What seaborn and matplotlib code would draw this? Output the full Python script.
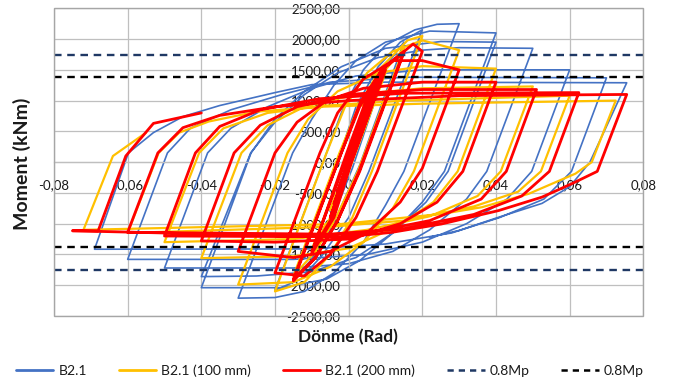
import matplotlib
matplotlib.use("Agg")
import matplotlib.pyplot as plt
from matplotlib.lines import Line2D
from matplotlib.patches import Rectangle
import seaborn as sns
import pandas as pd

# ---------------- data (rotation [rad], moment [kNm]) ----------------
B21 = [
    (0.000, 0), (0.004, 700), (-0.004, -700), (0.005, 820), (-0.005, -800),
    (0.001, 200), (0.005, 950), (0.010, 1500), (0.001, -100), (-0.004, -850), (-0.010, -1480),
    (-0.0003, 100), (0.005, 1000), (0.010, 1550), (0.015, 1950),
    (0.003, -50), (-0.003, -850), (-0.008, -1450), (-0.015, -1900),
    (-0.0025, 100), (0.002, 900), (0.008, 1550), (0.014, 1950), (0.020, 2150),
    (0.0055, -150), (0.000, -900), (-0.007, -1500), (-0.013, -1900), (-0.020, -2080),
    (-0.006, 150), (-0.002, 800), (0.004, 1500), (0.010, 1900), (0.018, 2150), (0.024, 2240), (0.030, 2250),
    (0.015, -150), (0.010, -700), (0.004, -1300), (-0.004, -1800), (-0.012, -2100), (-0.020, -2200), (-0.030, -2210),
    (-0.0152, 150), (-0.010, 700), (-0.004, 1250), (0.002, 1650), (0.010, 1950), (0.022, 2130), (0.040, 2100),
    (0.026, -150), (0.020, -650), (0.012, -1150), (0.003, -1600), (-0.006, -1900), (-0.018, -2040), (-0.040, -2040),
    (-0.0265, 150), (-0.020, 700), (-0.012, 1150), (-0.002, 1550), (0.010, 1850), (0.025, 1960), (0.040, 1950),
    (0.027, -150), (0.021, -650), (0.012, -1150), (0.002, -1550), (-0.010, -1780), (-0.025, -1850), (-0.040, -1860),
    (-0.0266, 150), (-0.020, 650), (-0.012, 1100), (-0.003, 1450), (0.008, 1700), (0.020, 1820), (0.030, 1860), (0.050, 1850),
    (0.0375, -150), (0.032, -600), (0.022, -1100), (0.012, -1450), (0.000, -1650), (-0.015, -1720), (-0.050, -1720),
    (-0.0383, 150), (-0.032, 550), (-0.022, 900), (-0.010, 1200), (0.002, 1400), (0.020, 1500), (0.060, 1500),
    (0.0497, -150), (0.043, -600), (0.032, -1000), (0.020, -1300), (0.005, -1500), (-0.015, -1580), (-0.060, -1580),
    (-0.0492, 150), (-0.043, 550), (-0.032, 850), (-0.018, 1100), (-0.005, 1300), (0.015, 1380), (0.070, 1370),
    (0.0605, -150), (0.053, -600), (0.041, -900), (0.028, -1150), (0.010, -1330), (-0.010, -1410), (-0.069, -1415),
    (-0.0598, 150), (-0.053, 480), (-0.045, 740), (-0.035, 920), (-0.020, 1130), (-0.010, 1260), (0.010, 1300), (0.0755, 1290),
    (0.0655, 0), (0.060, -400), (0.0525, -670), (0.041, -890), (0.030, -1110), (0.022, -1220),
]

B21_100 = [
    (0.000, 0), (0.004, 650), (-0.004, -650), (0.005, 800), (-0.005, -780),
    (0.0018, 300), (0.005, 850), (0.010, 1450), (0.000, -150), (-0.004, -800), (-0.010, -1420),
    (-0.0002, 150), (0.005, 1000), (0.010, 1500), (0.015, 1850),
    (0.0025, -150), (-0.003, -850), (-0.009, -1450), (-0.015, -1850),
    (-0.0025, 150), (0.003, 950), (0.009, 1550), (0.016, 1980), (0.020, 2050),
    (0.0063, -150), (0.001, -900), (-0.005, -1500), (-0.012, -1950), (-0.020, -2100),
    (-0.006, 150), (-0.001, 900), (0.005, 1450), (0.012, 1800), (0.020, 1980), (0.030, 1820),
    (0.0177, -150), (0.012, -750), (0.004, -1300), (-0.005, -1700), (-0.015, -1950), (-0.030, -1990),
    (-0.0166, 150), (-0.011, 700), (-0.003, 1150), (0.008, 1450), (0.020, 1560), (0.040, 1520),
    (0.0296, -150), (0.023, -650), (0.013, -1050), (0.000, -1400), (-0.015, -1530), (-0.040, -1560),
    (-0.0291, 150), (-0.022, 600), (-0.012, 900), (0.002, 1100), (0.020, 1200), (0.050, 1230),
    (0.0413, -150), (0.035, -550), (0.022, -880), (0.005, -1100), (-0.015, -1250), (-0.050, -1300),
    (-0.0406, 150), (-0.034, 550), (-0.022, 800), (-0.006, 920), (0.015, 1000), (0.060, 1080),
    (0.0522, -150), (0.046, -480), (0.034, -720), (0.015, -950), (-0.005, -1050), (-0.060, -1150),
    (-0.0516, 150), (-0.046, 480), (-0.038, 660), (-0.025, 820), (-0.008, 900), (0.020, 950), (0.0725, 1000),
    (0.066, 0), (0.0616, -186), (0.0489, -514), (0.0362, -732), (0.0252, -842), (0.0116, -923), (-0.002, -1005),
    (-0.072, -1100), (-0.064, 100), (-0.055, 480),
]

B21_200 = [
    (0.000, 0), (0.003, 500), (-0.003, -480), (0.004, 700), (-0.004, -680), (0.006, 1000), (-0.005, -900),
    (0.001, 150), (0.005, 900), (0.010, 1500), (0.000, -100), (-0.004, -850), (-0.010, -1450),
    (0.000, 150), (0.005, 1000), (0.010, 1550), (0.0005, -50), (-0.004, -900), (-0.010, -1480),
    (-0.0005, 150), (0.005, 1050), (0.010, 1550), (0.015, 1800),
    (0.0028, -150), (-0.003, -950), (-0.009, -1550), (-0.015, -1930),
    (-0.002, 150), (0.003, 950), (0.009, 1500), (0.015, 1780),
    (0.003, -150), (-0.003, -950), (-0.009, -1550), (-0.015, -1900),
    (-0.002, 150), (0.003, 900), (0.009, 1500), (0.0175, 1920), (0.020, 1800),
    (0.0078, -150), (0.002, -900), (-0.005, -1500), (-0.012, -1850), (-0.020, -1800),
    (-0.0078, 150), (-0.003, 800), (0.004, 1350), (0.012, 1650), (0.020, 1650), (0.030, 1500),
    (0.020, -100), (0.014, -650), (0.005, -1150), (-0.005, -1450), (-0.015, -1550), (-0.030, -1450),
    (-0.020, 150), (-0.014, 650), (-0.006, 1000), (0.004, 1200), (0.020, 1300), (0.040, 1300),
    (0.031, -150), (0.024, -650), (0.014, -1000), (0.000, -1250), (-0.020, -1300), (-0.040, -1280),
    (-0.0311, 150), (-0.024, 600), (-0.014, 900), (0.000, 1100), (0.020, 1180), (0.051, 1180),
    (0.0428, -150), (0.036, -600), (0.022, -950), (0.005, -1150), (-0.015, -1210), (-0.050, -1200),
    (-0.0416, 150), (-0.035, 580), (-0.024, 850), (-0.008, 1030), (0.015, 1120), (0.0625, 1130),
    (0.0545, -150), (0.047, -550), (0.034, -850), (0.015, -1080), (-0.005, -1170), (-0.060, -1140),
    (-0.0518, 150), (-0.045, 560), (-0.035, 760), (-0.020, 900), (0.000, 1000), (0.030, 1080), (0.0755, 1100),
    (0.0675, -150), (0.0606, -350), (0.0525, -568), (0.0407, -787), (0.0252, -1005), (0.0116, -1142),
    (-0.002, -1220), (-0.075, -1115), (-0.068, -1115), (-0.0605, 100), (-0.053, 630), (-0.040, 800),
]

series_names = ["B2.1", "B2.1 (100 mm)", "B2.1 (200 mm)"]
series_colors = ["#4472C4", "#FFC000", "#FF0000"]
series_widths = [1.2, 1.6, 2.0]

mp_levels_1 = [1745, -1745]   # 0.8Mp (dark blue dashed)
mp_levels_2 = [1385, -1385]   # 0.8Mp (black dashed)

x_ticks = [-0.08, -0.06, -0.04, -0.02, 0.0, 0.02, 0.04, 0.06, 0.08]
x_tick_labels = ["-0,08", "-0,06", "-0,04", "-0,02", "0", "0,02", "0,04", "0,06", "0,08"]
y_ticks = [-2500, -2000, -1500, -1000, -500, 0, 500, 1000, 1500, 2000, 2500]
y_tick_labels = ["-2500,00", "-2000,00", "-1500,00", "-1000,00", "-500,00", "0,00",
                 "500,00", "1000,00", "1500,00", "2000,00", "2500,00"]

# ---------------- figure ----------------
sns.set_theme(style="white")
plt.rcParams["font.family"] = ["Lato", "DejaVu Sans"]

W, H = 683, 390
fig = plt.figure(figsize=(W / 100, H / 100), dpi=100)
L, R, T, B = 54, 643.3, 8.3, 316
ax = fig.add_axes([L / W, 1 - B / H, (R - L) / W, (B - T) / H])

frames = []
for name, pts in zip(series_names, [B21, B21_100, B21_200]):
    df = pd.DataFrame(pts, columns=["rot", "mom"])
    df["series"] = name
    df["step"] = range(len(df))
    frames.append(df)

for df, col, lw, z in zip(frames, series_colors, series_widths, [2, 3, 4]):
    sns.lineplot(data=df, x="rot", y="mom", sort=False, estimator=None,
                 color=col, lw=lw, ax=ax, zorder=z, legend=False)

for lev in mp_levels_1:
    ax.axhline(lev, color="#1F3864", lw=1.7, dashes=(3.2, 2.4), zorder=5)
for lev in mp_levels_2:
    ax.axhline(lev, color="#000000", lw=1.7, dashes=(3.2, 2.4), zorder=5)

ax.set_xlim(-0.08, 0.08)
ax.set_ylim(-2500, 2500)
ax.set_xticks(x_ticks)
ax.set_xticklabels(x_tick_labels)
ax.set_yticks(y_ticks)
ax.set_yticklabels(y_tick_labels)
ax.set_xlabel("")
ax.set_ylabel("")
ax.set_axisbelow(True)
ax.grid(True, color="#BFBFBF", lw=0.9)

ax.spines["left"].set_position(("data", 0))
ax.spines["bottom"].set_position(("data", 0))
for s in ["top", "right"]:
    ax.spines[s].set_visible(False)
for s in ["left", "bottom"]:
    ax.spines[s].set_color("#BFBFBF")
    ax.spines[s].set_linewidth(0.9)
ax.add_patch(Rectangle((0, 0), 1, 1, transform=ax.transAxes, fill=False,
                       edgecolor="#A6A6A6", lw=1.0, clip_on=False, zorder=6))

ax.tick_params(axis="both", length=0, labelsize=9.5, labelcolor="#1a1a1a")
ax.tick_params(axis="x", pad=12)
ax.tick_params(axis="y", pad=6)

fig.text(348 / W, 1 - 337 / H, "Dönme (Rad)", ha="center", va="center",
         fontsize=12.4, fontweight="bold", color="#1a1a1a")
fig.text(22 / W, 1 - 164 / H, "Moment (kNm)", ha="center", va="center",
         rotation=90, fontsize=14, fontweight="bold", color="#1a1a1a")

handles = [Line2D([], [], color=c, lw=2) for c in series_colors]
handles.append(Line2D([], [], color="#1F3864", lw=1.8, dashes=(2.5, 2)))
handles.append(Line2D([], [], color="#000000", lw=1.8, dashes=(2.5, 2)))
labels = series_names + ["0.8Mp", "0.8Mp"]
fig.legend(handles, labels, loc="center", bbox_to_anchor=(0.483, 1 - 371 / H),
           ncol=5, frameon=False, fontsize=10, handlelength=2.7,
           handletextpad=0.35, columnspacing=2.3, labelcolor="#1a1a1a")

fig.savefig("out.png", dpi=100)
